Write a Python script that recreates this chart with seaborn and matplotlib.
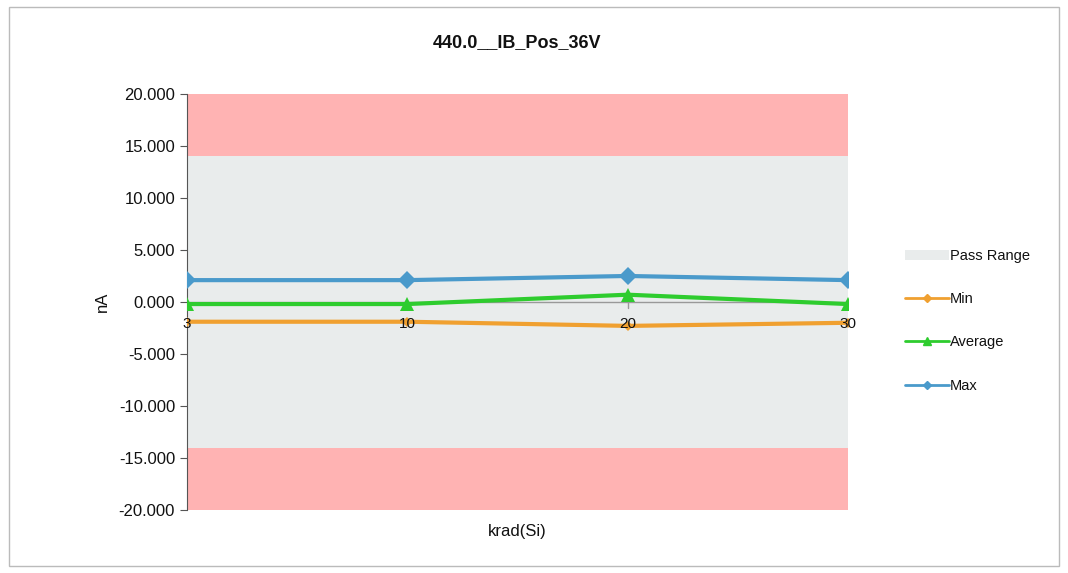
import numpy as np
import pandas as pd
import matplotlib
matplotlib.use("Agg")
import matplotlib.pyplot as plt
import seaborn as sns
from matplotlib.patches import Patch, Rectangle
from matplotlib.lines import Line2D

# data
krad = ["3", "10", "20", "30"]
min_vals = [-1.9, -1.9, -2.3, -2.0]
avg_vals = [-0.2, -0.2, 0.7, -0.2]
max_vals = [2.1, 2.1, 2.5, 2.1]
pass_lo, pass_hi = -14.0, 14.0
y_lo, y_hi = -20.0, 20.0

sns.set_style("white")
plt.rcParams['font.family'] = ['Liberation Sans', 'DejaVu Sans']
plt.rcParams['text.color'] = '#111111'
plt.rcParams['axes.labelcolor'] = '#111111'
plt.rcParams['ytick.color'] = '#111111'

df = pd.DataFrame({"krad": krad * 3,
                   "val": min_vals + avg_vals + max_vals,
                   "series": ["Min"] * 4 + ["Average"] * 4 + ["Max"] * 4})

colors = {"Min": "#F0A030", "Average": "#2ECC2E", "Max": "#4A9ACB"}
markers = {"Min": "D", "Average": "^", "Max": "D"}
msize = {"Min": 5, "Average": 10, "Max": 9}

fig = plt.figure(figsize=(10.68, 5.73), dpi=100)
ax = fig.add_axes([0.175, 0.11, 0.619, 0.726])

# bands
ax.axhspan(pass_hi, y_hi, color="#FFB3B3", lw=0, zorder=0)
ax.axhspan(y_lo, pass_lo, color="#FFB3B3", lw=0, zorder=0)
ax.axhspan(pass_lo, pass_hi, color="#E9ECEC", lw=0, zorder=0)

for s in ["Min", "Average", "Max"]:
    sub = df[df.series == s]
    sns.lineplot(data=sub, x="krad", y="val", ax=ax, color=colors[s],
                 marker=markers[s], markersize=msize[s], markeredgewidth=0,
                 linewidth=3, sort=False, zorder=3)

ax.set_xlim(0, 3)
ax.set_ylim(y_lo, y_hi)
ax.set_yticks(np.arange(-20, 21, 5))
ax.set_yticklabels([f"{v:.3f}" for v in np.arange(-20, 21, 5)], fontsize=12)
ax.tick_params(axis="y", length=5, direction="out", left=True, color="#555555")

# x axis crosses at zero like Excel
for sp in ["top", "right", "bottom"]:
    ax.spines[sp].set_visible(False)
ax.spines["left"].set_color("#555555")
ax.axhline(0, color="#999999", lw=1, zorder=2)
ax.set_xticks([])
for i, k in enumerate(krad):
    ax.plot([i, i], [0, -0.6], color="#999999", lw=1, zorder=2)
    ax.text(i, -1.4, k, ha="center", va="top", fontsize=11, zorder=4)

ax.set_xlabel("krad(Si)", fontsize=12, labelpad=10)
ax.set_ylabel("nA", fontsize=12, labelpad=6)
ax.set_title("440.0__IB_Pos_36V", fontsize=13, fontweight="bold", pad=34)

handles = [Patch(facecolor="#E9ECEC", edgecolor="none", label="Pass Range"),
           Line2D([], [], color=colors["Min"], marker="D", markersize=4, lw=2, label="Min"),
           Line2D([], [], color=colors["Average"], marker="^", markersize=6, lw=2, label="Average"),
           Line2D([], [], color=colors["Max"], marker="D", markersize=4, lw=2, label="Max")]
fig.legend(handles=handles, loc="center left", bbox_to_anchor=(0.835, 0.44),
           frameon=False, fontsize=10.5, labelspacing=2.0, handlelength=3,
           handletextpad=0.1)

# outer frame
fig.patches.append(Rectangle((0.008, 0.012), 0.984, 0.975, transform=fig.transFigure,
                             fill=False, edgecolor="#BBBBBB", lw=1))

fig.savefig("out.png", dpi=100)
